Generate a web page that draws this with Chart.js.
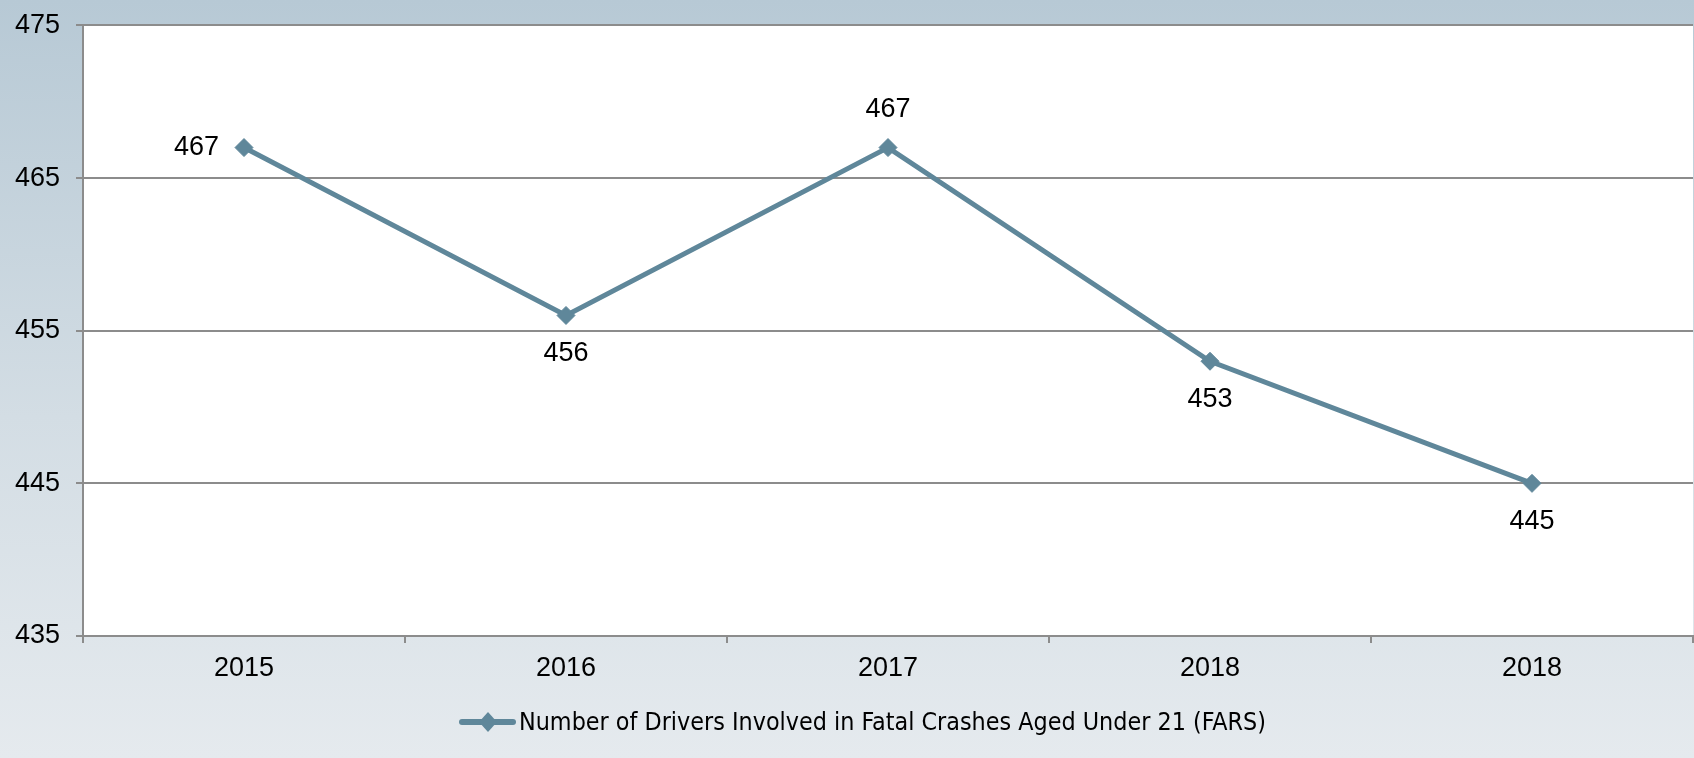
<!DOCTYPE html>
<html>
<head>
<meta charset="utf-8">
<script src="https://cdn.jsdelivr.net/npm/chart.js@4.4.1/dist/chart.umd.min.js"></script>
<style>
  html, body { margin: 0; padding: 0; }
  body {
    width: 1694px; height: 758px; overflow: hidden;
    background: linear-gradient(to bottom, #b7c9d5 0%, #d3dde4 55%, #e5eaee 100%);
  }
  #wrap { position: relative; width: 1694px; height: 758px; }
</style>
</head>
<body>
<div id="wrap"><canvas id="chart" width="1694" height="758"></canvas></div>
<script>
// Drivers aged under 21 involved in fatal crashes, by year
const years = ['2015', '2016', '2017', '2018', '2018'];
const drivers = [467, 456, 467, 453, 445];
const yMin = 435;
const yMax = 475;
const yStep = 10;
const seriesName = 'Number of Drivers Involved in Fatal Crashes Aged Under 21 (FARS)';

const LINE_COLOR = '#5f879a';
const GRID_COLOR = '#8c8c8c';
const TICK_FONT = '"Liberation Sans", Arial, sans-serif';

// White plotting area on top of the page gradient
const plotBackground = {
  id: 'plotBackground',
  beforeDraw(chart) {
    const { ctx, chartArea: a } = chart;
    ctx.save();
    ctx.fillStyle = '#ffffff';
    ctx.fillRect(a.left, a.top, a.right - a.left, a.bottom - a.top);
    ctx.restore();
  }
};

// Value labels next to each marker
const valueLabels = {
  id: 'valueLabels',
  afterDatasetsDraw(chart) {
    const { ctx } = chart;
    const meta = chart.getDatasetMeta(0);
    const spots = ['left', 'below', 'above', 'below', 'below'];
    ctx.save();
    ctx.font = '27px ' + TICK_FONT;
    ctx.fillStyle = '#000000';
    ctx.textBaseline = 'middle';
    meta.data.forEach((pt, i) => {
      const v = chart.data.datasets[0].data[i];
      let x = pt.x, y = pt.y;
      if (spots[i] === 'left') { ctx.textAlign = 'right'; x -= 25; }
      else if (spots[i] === 'above') { ctx.textAlign = 'center'; y -= 38; }
      else { ctx.textAlign = 'center'; y += 38; }
      ctx.fillText(String(v), x, y);
    });
    ctx.restore();
  }
};

// Legend below the axis: line with diamond marker, then the series name
const seriesLegend = {
  id: 'seriesLegend',
  afterDraw(chart) {
    const { ctx } = chart;
    const y = 722;
    const x0 = 459;
    ctx.save();
    ctx.strokeStyle = LINE_COLOR;
    ctx.lineWidth = 6;
    ctx.lineCap = 'round';
    ctx.beginPath();
    ctx.moveTo(x0 + 3, y);
    ctx.lineTo(x0 + 54, y);
    ctx.stroke();
    ctx.fillStyle = LINE_COLOR;
    ctx.beginPath();
    ctx.moveTo(x0 + 29, y - 10);
    ctx.lineTo(x0 + 38, y);
    ctx.lineTo(x0 + 29, y + 10);
    ctx.lineTo(x0 + 20, y);
    ctx.closePath();
    ctx.fill();

    ctx.font = '25px "Liberation Sans Narrow", "DejaVu Sans Condensed", Arial, sans-serif';
    ctx.fillStyle = '#000000';
    ctx.textAlign = 'left';
    ctx.textBaseline = 'middle';
    const tx = x0 + 60;
    const targetWidth = 747;
    const w = ctx.measureText(seriesName).width;
    const sx = targetWidth / w;
    ctx.translate(tx, y + 1);
    ctx.scale(sx, 1);
    ctx.fillText(seriesName, 0, 0);
    ctx.restore();
  }
};

new Chart(document.getElementById('chart'), {
  type: 'line',
  data: {
    labels: years,
    datasets: [{
      label: seriesName,
      data: drivers,
      borderColor: LINE_COLOR,
      backgroundColor: LINE_COLOR,
      borderWidth: 5,
      pointStyle: 'rectRot',
      pointRadius: 9,
      pointHoverRadius: 9,
      pointBorderWidth: 1,
      pointBorderColor: LINE_COLOR,
      pointBackgroundColor: LINE_COLOR,
      tension: 0,
      fill: false
    }]
  },
  options: {
    responsive: false,
    animation: false,
    devicePixelRatio: 1,
    layout: { autoPadding: false, padding: { top: 24, right: 1, bottom: 0, left: 0 } },
    plugins: {
      legend: { display: false },
      tooltip: { enabled: false }
    },
    scales: {
      x: {
        offset: true,
        grid: {
          offset: true,
          drawOnChartArea: false,
          drawTicks: true,
          tickLength: 7,
          color: GRID_COLOR,
          lineWidth: 2
        },
        border: { display: true, color: GRID_COLOR, width: 2 },
        ticks: {
          color: '#000000',
          font: { family: TICK_FONT, size: 27 },
          padding: 9,
          maxRotation: 0,
          autoSkip: false
        },
        afterFit(scale) { scale.height = 122; }
      },
      y: {
        min: yMin,
        max: yMax,
        grid: {
          color: GRID_COLOR,
          lineWidth: 2,
          drawTicks: true,
          tickLength: 7
        },
        border: { display: true, color: GRID_COLOR, width: 2 },
        ticks: {
          stepSize: yStep,
          color: '#000000',
          font: { family: TICK_FONT, size: 27, lineHeight: 0.7 },
          padding: 16
        },
        afterFit(scale) { scale.width = 83; }
      }
    }
  },
  plugins: [plotBackground, valueLabels, seriesLegend]
});
</script>
</body>
</html>
